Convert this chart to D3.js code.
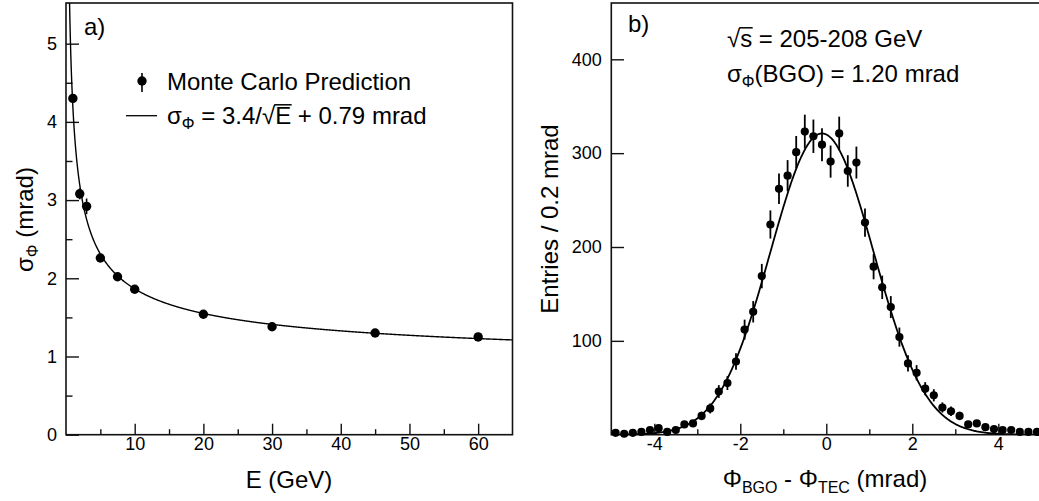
<!DOCTYPE html>
<html><head><meta charset="utf-8">
<script src="https://cdn.jsdelivr.net/npm/d3@7"></script>
<style>
body{margin:0;background:#fff}
svg text{font-family:"Liberation Sans",Arial,Helvetica,sans-serif;fill:#000}
</style></head><body>
<svg id="c" width="1039" height="501" xmlns="http://www.w3.org/2000/svg"></svg>
<script>
// ---------- Panel a) data ----------
const energies = [1, 2, 3, 5, 7.5, 10, 20, 30, 45, 60];
const sigmaPhi = [4.30, 3.08, 2.92, 2.26, 2.02, 1.86, 1.54, 1.38, 1.30, 1.25];
const sigmaErr = [0.04, 0.07, 0.10, 0.04, 0.03, 0.03, 0.02, 0.02, 0.02, 0.02];
const fitStoch = 3.4, fitConst = 0.79;
const xTicksA = [10, 20, 30, 40, 50, 60];
const xMinorA = [5, 15, 25, 35, 45, 55];
const yTicksA = [0, 1, 2, 3, 4, 5];
const yMinorA = [0.5, 1.5, 2.5, 3.5, 4.5];

// ---------- Panel b) data ----------
const binCenters = [-4.9,-4.7,-4.5,-4.3,-4.1,-3.9,-3.7,-3.5,-3.3,-3.1,
  -2.9,-2.7,-2.5,-2.3,-2.1,-1.9,-1.7,-1.5,-1.3,-1.1,
  -0.9,-0.7,-0.5,-0.3,-0.1,0.1,0.3,0.5,0.7,0.9,
  1.1,1.3,1.5,1.7,1.9,2.1,2.3,2.5,2.7,2.9,
  3.1,3.3,3.5,3.7,3.9,4.1,4.3,4.5,4.7,4.9];
const entries = [2,1,2,3,5,7,3,5,11,12,
  20,28,46,55,78,112,131,169,224,262,
  276,301,323,318,309,291,321,281,290,226,
  179,157,136,104,76,66,49,42,29,25,
  20,11,12,8,6,5,5,3,3,3];
const entryErr = [1.4,1,1.4,1.7,2.2,2.6,1.7,2.2,3.3,3.5,
  4.5,5.3,6.8,7.4,8.8,10.6,11.4,13,15,16.2,
  16.6,17.3,18,17.8,17.6,17.1,17.9,16.8,17,15,
  13.4,12.5,11.7,10.2,8.7,8.1,7,6.5,5.4,5,
  4.5,3.3,3.5,2.8,2.4,2.2,2.2,1.7,1.7,1.7];
const gausAmp = 321, gausMean = -0.1, gausSigma = 1.2;
const xTicksB = [-4, -2, 0, 2, 4];
const xMinorB = [-3, -1, 1, 3];
const yTicksB = [100, 200, 300, 400];

const svg = d3.select("#c");
const FONT = '"Liberation Sans",Arial,Helvetica,sans-serif';
const INK = "#111";

// scales
const xA = d3.scaleLinear().domain([0, 65]).range([66, 512.5]);
const yA = d3.scaleLinear().domain([0, 5.52]).range([434.7, 3]);
const xB = d3.scaleLinear().domain([-5, 5]).range([611.3, 1041.3]);
const yB = d3.scaleLinear().domain([0, 460]).range([434.7, 3]);

// clip paths
const defs = svg.append("defs");
defs.append("clipPath").attr("id","clipA").append("rect")
  .attr("x", xA(0)).attr("y", yA(5.52)).attr("width", xA(65)-xA(0)).attr("height", yA(0)-yA(5.52));
defs.append("clipPath").attr("id","clipB").append("rect")
  .attr("x", xB(-5)).attr("y", yB(460)).attr("width", xB(5)-xB(-5)).attr("height", yB(0)-yB(460));

function styleAxis(g){
  g.attr("font-family", FONT).attr("font-size", 18);
  g.select(".domain").remove();
  g.selectAll(".tick line").attr("stroke", INK).attr("stroke-width", 1.4);
  g.selectAll(".tick text").attr("fill", "#000");
}

// ----- Panel a axes -----
svg.append("g").attr("transform", `translate(0,${yA(0)})`)
  .call(d3.axisBottom(xA).tickValues(xTicksA).tickSize(-11).tickPadding(3).tickFormat(d3.format("d")))
  .call(styleAxis);
svg.append("g").attr("transform", `translate(0,${yA(0)})`)
  .call(d3.axisBottom(xA).tickValues(xMinorA).tickSize(-5.5).tickFormat(""))
  .call(styleAxis);
svg.append("g").attr("transform", `translate(${xA(0)},0)`)
  .call(d3.axisLeft(yA).tickValues(yTicksA).tickSize(-13).tickPadding(9).tickFormat(d3.format("d")))
  .call(styleAxis);
svg.append("g").attr("transform", `translate(${xA(0)},0)`)
  .call(d3.axisLeft(yA).tickValues(yMinorA).tickSize(-6.5).tickFormat(""))
  .call(styleAxis);

// frame a
svg.append("rect").attr("x", xA(0)).attr("y", yA(5.52))
  .attr("width", xA(65)-xA(0)).attr("height", yA(0)-yA(5.52))
  .attr("fill","none").attr("stroke", INK).attr("stroke-width", 1.6);

// fit curve a
const curveE = d3.range(0.45, 65.01, 0.05);
svg.append("path").attr("clip-path","url(#clipA)")
  .datum(curveE)
  .attr("fill","none").attr("stroke","#000").attr("stroke-width",1.4)
  .attr("d", d3.line().x(e => xA(e)).y(e => yA(fitStoch/Math.sqrt(e) + fitConst)));

// points a
const ptsA = svg.append("g");
energies.forEach((e,i) => {
  ptsA.append("line").attr("x1", xA(e)).attr("x2", xA(e))
    .attr("y1", yA(sigmaPhi[i]-sigmaErr[i])).attr("y2", yA(sigmaPhi[i]+sigmaErr[i]))
    .attr("stroke","#000").attr("stroke-width",1.6);
  ptsA.append("circle").attr("cx", xA(e)).attr("cy", yA(sigmaPhi[i])).attr("r", 4.7).attr("fill","#000");
});

// labels a
svg.append("text").attr("x", 84).attr("y", 35).attr("font-size", 24).text("a)");
// legend
svg.append("line").attr("x1",142).attr("x2",142).attr("y1",73).attr("y2",92).attr("stroke","#000").attr("stroke-width",1.6);
svg.append("circle").attr("cx",142).attr("cy",81).attr("r",4.7).attr("fill","#000");
svg.append("text").attr("x",167).attr("y",90).attr("font-size",24).text("Monte Carlo Prediction");
svg.append("line").attr("x1",126).attr("x2",157).attr("y1",115.7).attr("y2",115.7).attr("stroke","#000").attr("stroke-width",1.3);
const leg2 = svg.append("text").attr("x",167).attr("y",124).attr("font-size",24);
leg2.append("tspan").text("σ");
leg2.append("tspan").attr("font-size",16).attr("dy",5).text("Φ");
leg2.append("tspan").attr("dy",-5).text(" = 3.4/√");
leg2.append("tspan").attr("class","ovl").text("E");
leg2.append("tspan").text(" + 0.79 mrad");

// axis titles a
svg.append("text").attr("x", 289).attr("y", 488).attr("font-size", 24).attr("text-anchor","middle").text("E (GeV)");
const ytA = svg.append("text").attr("transform","translate(33,219.5) rotate(-90)")
  .attr("font-size",24).attr("text-anchor","middle");
ytA.append("tspan").text("σ");
ytA.append("tspan").attr("font-size",16).attr("dy",5).text("Φ");
ytA.append("tspan").attr("dy",-5).text(" (mrad)");

// ----- Panel b axes -----
svg.append("g").attr("transform", `translate(0,${yB(0)})`)
  .call(d3.axisBottom(xB).tickValues(xTicksB).tickSize(-11).tickPadding(3).tickFormat(d3.format("d")))
  .call(styleAxis);
svg.append("g").attr("transform", `translate(0,${yB(0)})`)
  .call(d3.axisBottom(xB).tickValues(xMinorB).tickSize(-5.5).tickFormat(""))
  .call(styleAxis);
svg.append("g").attr("transform", `translate(${xB(-5)},0)`)
  .call(d3.axisLeft(yB).tickValues(yTicksB).tickSize(-12.7).tickPadding(9.6).tickFormat(d3.format("d")))
  .call(styleAxis);
// fix minus sign to hyphen-like look
svg.selectAll(".tick text").each(function(){ this.textContent = this.textContent.replace("−","-"); });

svg.append("rect").attr("x", xB(-5)).attr("y", yB(460))
  .attr("width", xB(5)-xB(-5)).attr("height", yB(0)-yB(460))
  .attr("fill","none").attr("stroke", INK).attr("stroke-width", 1.6);

// gaussian fit b
const curveX = d3.range(-5, 5.001, 0.02);
svg.append("path").attr("clip-path","url(#clipB)")
  .datum(curveX)
  .attr("fill","none").attr("stroke","#000").attr("stroke-width",1.8)
  .attr("d", d3.line().x(x => xB(x)).y(x => yB(gausAmp*Math.exp(-0.5*Math.pow((x-gausMean)/gausSigma,2)))));

const ptsB = svg.append("g");
binCenters.forEach((x,i) => {
  ptsB.append("line").attr("x1", xB(x)).attr("x2", xB(x))
    .attr("y1", yB(Math.max(0, entries[i]-entryErr[i]))).attr("y2", yB(entries[i]+entryErr[i]))
    .attr("stroke","#000").attr("stroke-width",1.8);
  ptsB.append("circle").attr("cx", xB(x)).attr("cy", yB(entries[i])).attr("r", 4.1).attr("fill","#000");
});

// labels b
svg.append("text").attr("x", 628).attr("y", 32).attr("font-size", 24).text("b)");
const t1 = svg.append("text").attr("x", 727).attr("y", 47).attr("font-size", 24);
t1.append("tspan").text("√");
t1.append("tspan").attr("class","ovl").text("s");
t1.append("tspan").text(" = 205-208 GeV");
const t2 = svg.append("text").attr("x", 727).attr("y", 82).attr("font-size", 24);
t2.append("tspan").text("σ");
t2.append("tspan").attr("font-size",16).attr("dy",5).text("Φ");
t2.append("tspan").attr("dy",-5).text("(BGO) = 1.20 mrad");

const xtB = svg.append("text").attr("x", 825).attr("y", 487).attr("font-size", 24).attr("text-anchor","middle");
xtB.append("tspan").text("Φ");
xtB.append("tspan").attr("font-size",16).attr("dy",6).text("BGO");
xtB.append("tspan").attr("dy",-6).text(" - Φ");
xtB.append("tspan").attr("font-size",16).attr("dy",6).text("TEC");
xtB.append("tspan").attr("dy",-6).text(" (mrad)");

svg.append("text").attr("transform","translate(558,219) rotate(-90)")
  .attr("font-size",24).attr("text-anchor","middle").text("Entries / 0.2 mrad");

// overlines for square roots
svg.selectAll("tspan.ovl").each(function(){
  const textEl = this.parentNode;
  const full = textEl.textContent;
  let idx = 0, node = textEl.firstChild;
  while (node && node !== this) { idx += node.textContent.length; node = node.nextSibling; }
  const prev = textEl.getExtentOfChar(idx-1);
  const cur = textEl.getExtentOfChar(idx);
  const y = +textEl.getAttribute("y") - 24*0.80;
  svg.append("line").attr("x1", prev.x + prev.width - 1).attr("x2", cur.x + cur.width + 0.5)
    .attr("y1", y).attr("y2", y).attr("stroke","#000").attr("stroke-width",1.5);
});
</script>
</body></html>
